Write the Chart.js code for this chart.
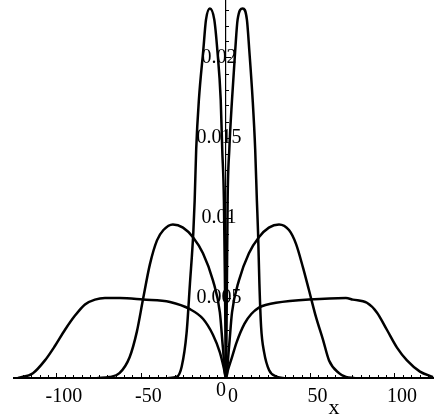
<!DOCTYPE html>
<html>
<head>
<meta charset="utf-8">
<script src="https://cdn.jsdelivr.net/npm/chart.js@4.4.1/dist/chart.umd.min.js"></script>
<style>
  html, body { margin: 0; padding: 0; background: #fff; }
  #wrap { width: 434px; height: 419px; }
</style>
</head>
<body>
<div id="wrap"><canvas id="plot"></canvas></div>
<script>
// Curve 1: tall narrow double peak
const narrowX = [-34, -29.2, -26.2, -23.3, -21.3, -19.3, -18.5, -17.6, -16, -13.4, -11.8, -9.5, -6.9, -5.1, -3.1, -2.2, -1.2, -0.5, 0,
                 0.5, 1, 2, 3.6, 5.5, 6.9, 9.9, 12.4, 13.8, 15.8, 17.3, 18.3, 19, 19.8, 20.8, 22.6, 25.5, 29.6, 34];
const narrowY = [0, 0.00006, 0.0007, 0.0028, 0.0059, 0.0091, 0.0111, 0.0143, 0.0174, 0.0205, 0.0224, 0.0231, 0.0224, 0.0205, 0.0174, 0.0143, 0.0111, 0.005, 0,
                 0.005, 0.0111, 0.0143, 0.0174, 0.0205, 0.0224, 0.0231, 0.0224, 0.0205, 0.0174, 0.0143, 0.0111, 0.0091, 0.0059, 0.0032, 0.0016, 0.0005, 0.0001, 0];

// Curve 2: medium hump
const mediumX = [-76, -69, -63, -57, -52.7, -49.1, -45, -40.8, -37, -31.4, -25.4, -19.5, -13.6, -7.7, -3.6, -1.8, 0,
                 1.8, 3.6, 7.7, 13.6, 19.5, 25.4, 31.4, 37.3, 41.4, 45.6, 49.1, 53.3, 57.4, 61, 66.9, 71, 76];
const mediumY = [0, 0.00006, 0.0003, 0.0013, 0.0029, 0.0049, 0.0071, 0.0086, 0.00925, 0.0096, 0.0094, 0.0088, 0.0078, 0.0061, 0.0041, 0.0019, 0,
                 0.0019, 0.0041, 0.0061, 0.0078, 0.0088, 0.0094, 0.0096, 0.00925, 0.0084, 0.0069, 0.0055, 0.0038, 0.0024, 0.0011, 0.0003, 0.00006, 0];

// Curve 3: wide flat top
const wideX = [-123, -114.2, -107.1, -101.2, -95.3, -89.3, -83.4, -77.5, -71.6, -62.7, -49.1, -33.1, -21.3, -13.6, -7.7, -3.6, -1.2, 0,
               1.2, 3.6, 6.2, 11, 15, 19.5, 24, 29.6, 49.1, 71, 75.1, 83.4, 89.3, 95.3, 101.2, 107.1, 114.8, 122.5];
const wideY = [0, 0.0003, 0.0011, 0.002, 0.003, 0.0039, 0.0046, 0.0049, 0.005, 0.005, 0.0049, 0.00475, 0.0043, 0.0037, 0.0027, 0.0016, 0.0006, 0,
               0.0005, 0.0013, 0.0022, 0.0034, 0.004, 0.0044, 0.00458, 0.0047, 0.0049, 0.005, 0.0049, 0.0047, 0.0041, 0.003, 0.0019, 0.0011, 0.0004, 0.00006];

// Ticks
const xTicks = [-100, -50, 0, 50, 100];
const xMinorTicks = [-120, -115, -110, -105, -95, -90, -85, -80, -75, -70, -65, -60, -55, -45, -40, -35, -30, -25, -20, -15, -10, -5,
                     5, 10, 15, 20, 25, 30, 35, 40, 45, 55, 60, 65, 70, 75, 80, 85, 90, 95, 105, 110, 115, 120];
const yTicks = [0, 0.005, 0.01, 0.015, 0.02];
const yTickLabels = ['0', '0.005', '0.01', '0.015', '0.02'];
const yMinorTicks = [0.001, 0.002, 0.003, 0.004, 0.006, 0.007, 0.008, 0.009, 0.011, 0.012, 0.013, 0.014,
                     0.016, 0.017, 0.018, 0.019, 0.021, 0.022, 0.023];
const xTitle = 'x';

const FONT = '"Liberation Serif", "Times New Roman", serif';

function toPoints(xs, ys) {
    return xs.map((x, i) => ({ x: x, y: ys[i] }));
}

function curve(xs, ys) {
    return {
        data: toPoints(xs, ys),
        borderColor: '#000',
        borderWidth: 2.5,
        pointRadius: 0,
        fill: false,
        cubicInterpolationMode: 'monotone'
    };
}

function fixedTicks(values) {
    return function(scale) {
        scale.ticks = values.map(v => ({ value: v }));
    };
}

// y tick labels sit centred on the axis, plus the "x" title
const axisText = {
    id: 'axisText',
    afterDraw(chart) {
        const { ctx, scales } = chart;
        const x0 = scales.x.getPixelForValue(0);
        ctx.save();
        ctx.fillStyle = '#000';
        ctx.font = '20px ' + FONT;
        ctx.textAlign = 'center';
        ctx.textBaseline = 'middle';
        yTicks.forEach((v, i) => {
            let py = scales.y.getPixelForValue(v);
            if (v === 0) py += 13;
            ctx.fillText(yTickLabels[i], v === 0 ? x0 - 5 : x0 - 7, py);
        });
        ctx.font = '22px ' + FONT;
        ctx.fillText(xTitle, scales.x.getPixelForValue(64), scales.y.getPixelForValue(0) + 30);
        ctx.restore();
    }
};

const minX = -125.4, maxX = 123.1;

new Chart(document.getElementById('plot'), {
    type: 'line',
    data: {
        datasets: [
            curve(narrowX, narrowY),
            curve(mediumX, mediumY),
            curve(wideX, wideY)
        ]
    },
    options: {
        responsive: true,
        maintainAspectRatio: false,
        animation: false,
        layout: { padding: { left: 14, right: 0, top: 0, bottom: 41 } },
        plugins: { legend: { display: false }, tooltip: { enabled: false } },
        scales: {
            x: {
                type: 'linear', min: minX, max: maxX, position: { y: 0 },
                afterBuildTicks: fixedTicks(xTicks),
                grid: { drawOnChartArea: false, tickLength: -6, tickColor: '#000', tickWidth: 1 },
                border: { color: '#000', width: 2 },
                ticks: {
                    color: '#000', padding: 13, labelOffset: 7, maxRotation: 0, autoSkip: false,
                    font: { family: FONT, size: 20 },
                    callback: v => String(v)
                }
            },
            xMinor: {
                type: 'linear', axis: 'x', min: minX, max: maxX, position: { y: 0 },
                afterBuildTicks: fixedTicks(xMinorTicks),
                grid: { drawOnChartArea: false, tickLength: -3, tickColor: '#000', tickWidth: 1 },
                border: { display: false },
                ticks: { display: false }
            },
            y: {
                type: 'linear', min: 0, max: 0.023625, position: { x: 0 },
                afterBuildTicks: fixedTicks(yTicks),
                grid: { drawOnChartArea: false, tickLength: -6, tickColor: '#000', tickWidth: 1 },
                border: { color: '#000', width: 1.2 },
                ticks: { display: false }
            },
            yMinor: {
                type: 'linear', axis: 'y', min: 0, max: 0.023625, position: { x: 0 },
                afterBuildTicks: fixedTicks(yMinorTicks),
                grid: { drawOnChartArea: false, tickLength: -3, tickColor: '#000', tickWidth: 1 },
                border: { display: false },
                ticks: { display: false }
            }
        }
    },
    plugins: [axisText]
});
</script>
</body>
</html>
